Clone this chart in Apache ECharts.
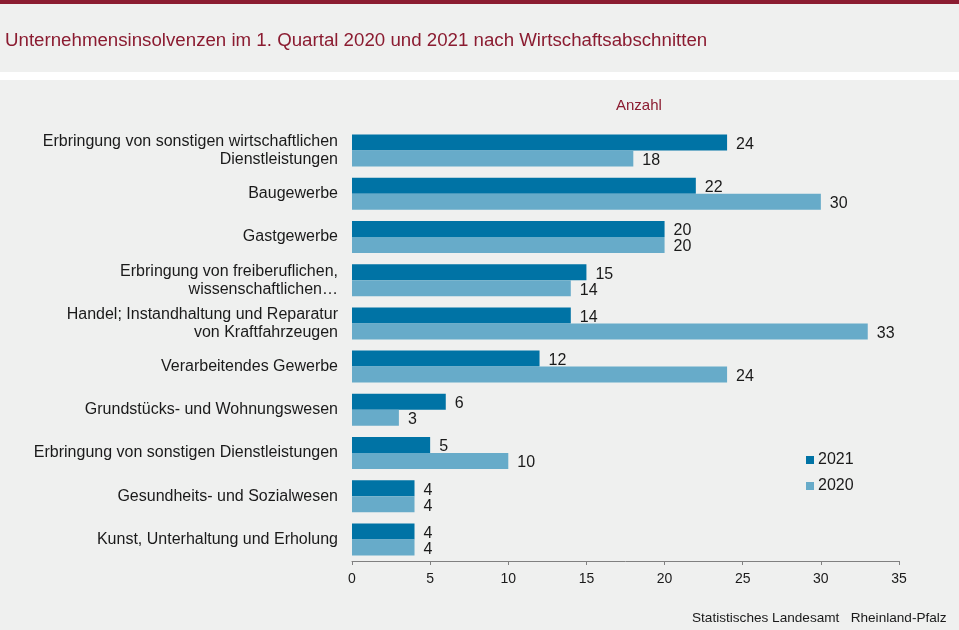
<!DOCTYPE html>
<html>
<head>
<meta charset="utf-8">
<script src="https://cdn.jsdelivr.net/npm/echarts@6/dist/echarts.min.js"></script>
<style>
  html, body { margin: 0; padding: 0; background: #eff0ef; }
  #chart { width: 959px; height: 630px; }
</style>
</head>
<body>
<div id="chart"></div>
<script>
// Kategorien (von oben nach unten)
var categories = [
    'Erbringung von sonstigen wirtschaftlichen\nDienstleistungen',
    'Baugewerbe',
    'Gastgewerbe',
    'Erbringung von freiberuflichen,\nwissenschaftlichen…',
    'Handel; Instandhaltung und Reparatur\nvon Kraftfahrzeugen',
    'Verarbeitendes Gewerbe',
    'Grundstücks- und Wohnungswesen',
    'Erbringung von sonstigen Dienstleistungen',
    'Gesundheits- und Sozialwesen',
    'Kunst, Unterhaltung und Erholung'
];
var values2021 = [24, 22, 20, 15, 14, 12, 6, 5, 4, 4];
var values2020 = [18, 30, 20, 14, 33, 24, 3, 10, 4, 4];
var seriesNames = ['2021', '2020'];

var font = "'Liberation Sans', Arial, sans-serif";
var chart = echarts.init(document.getElementById('chart'));

var option = {
    backgroundColor: '#eff0ef',
    animation: false,
    textStyle: { fontFamily: font },
    title: [
        {
            text: 'Unternehmensinsolvenzen im 1. Quartal 2020 und 2021 nach Wirtschaftsabschnitten',
            left: 0,
            top: 26,
            textStyle: { fontFamily: font, fontSize: 18.7, fontWeight: 'normal', color: '#8b1c31' }
        },
        {
            text: 'Anzahl',
            left: 611,
            top: 93,
            textStyle: { fontFamily: font, fontSize: 15, fontWeight: 'normal', color: '#8b1c31' }
        },
        {
            text: 'Statistisches Landesamt   Rheinland-Pfalz',
            left: 687,
            top: 606,
            textStyle: { fontFamily: font, fontSize: 13.6, fontWeight: 'normal', color: '#1a1a1a' }
        }
    ],
    graphic: [
        { type: 'rect', shape: { x: 0, y: 0, width: 959, height: 4 }, style: { fill: '#8b1c31' } },
        { type: 'rect', shape: { x: 0, y: 72, width: 959, height: 8 }, style: { fill: '#ffffff' } }
    ],
    legend: {
        orient: 'vertical',
        left: 801,
        top: 447,
        padding: 5,
        itemWidth: 8,
        itemHeight: 8,
        itemGap: 10,
        icon: 'rect',
        data: seriesNames,
        textStyle: { fontFamily: font, fontSize: 16, color: '#1a1a1a', padding: [0, 0, 0, -1] }
    },
    grid: {
        left: 352,
        right: 60,
        top: 129,
        bottom: 69,
        containLabel: false
    },
    xAxis: {
        type: 'value',
        min: 0,
        max: 35,
        interval: 5,
        axisLine: { show: true, lineStyle: { color: '#808080', width: 1 } },
        axisTick: { show: true, length: 4, lineStyle: { color: '#808080' } },
        splitLine: { show: false },
        axisLabel: { fontFamily: font, fontSize: 14, color: '#1a1a1a', margin: 11 }
    },
    yAxis: {
        type: 'category',
        inverse: true,
        data: categories,
        axisLine: { show: false },
        axisTick: { show: false },
        axisLabel: {
            fontFamily: font,
            fontSize: 16,
            color: '#1a1a1a',
            margin: 14,
            align: 'right',
            lineHeight: 18,
            padding: [4, 0, 0, 0]
        }
    },
    series: [
        {
            name: seriesNames[0],
            type: 'bar',
            data: values2021,
            barWidth: 16,
            barGap: '0%',
            itemStyle: { color: '#0073a5' },
            label: { show: true, position: 'right', distance: 9, offset: [0, 2], fontFamily: font, fontSize: 16, color: '#1a1a1a' }
        },
        {
            name: seriesNames[1],
            type: 'bar',
            data: values2020,
            barWidth: 16,
            barGap: '0%',
            itemStyle: { color: '#67abc9' },
            label: { show: true, position: 'right', distance: 9, offset: [0, 2], fontFamily: font, fontSize: 16, color: '#1a1a1a' }
        }
    ]
};

chart.setOption(option);
</script>
</body>
</html>
